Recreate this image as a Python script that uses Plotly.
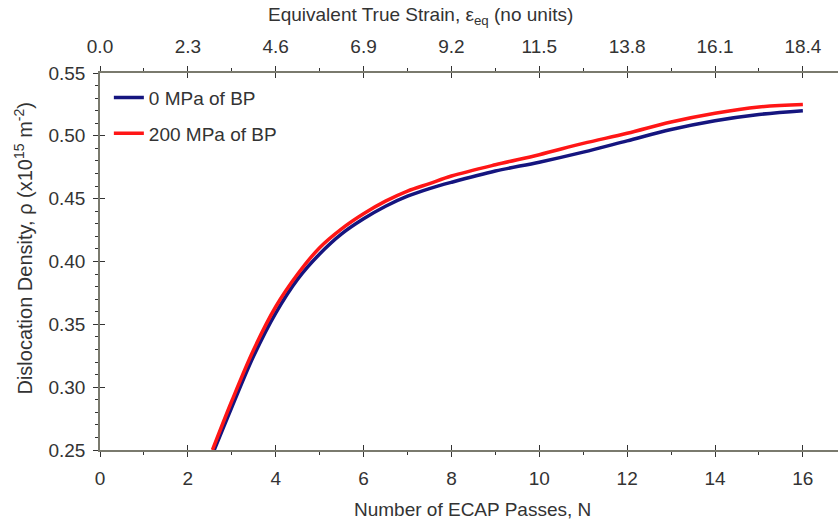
import plotly.graph_objects as go

# Data
n_blue = [2.6, 3.0, 3.5, 4.0, 4.5, 5.0, 5.5, 6.0, 6.5, 7.0, 7.5, 8.0, 9.0, 10.0, 11.0, 12.0, 13.0, 14.0, 15.0, 16.0]
rho_blue = [0.25, 0.284, 0.325, 0.359, 0.386, 0.406, 0.422, 0.434, 0.444, 0.452, 0.458, 0.463, 0.472, 0.479, 0.487, 0.496, 0.505, 0.512, 0.517, 0.520]
n_red = [2.56, 3.0, 3.5, 4.0, 4.5, 5.0, 5.5, 6.0, 6.5, 7.0, 7.5, 8.0, 9.0, 10.0, 11.0, 12.0, 13.0, 14.0, 15.0, 16.0]
rho_red = [0.25, 0.289, 0.330, 0.364, 0.390, 0.411, 0.426, 0.438, 0.448, 0.456, 0.462, 0.468, 0.477, 0.485, 0.494, 0.502, 0.511, 0.518, 0.523, 0.525]

series_names = ["0 MPa of BP", "200 MPa of BP"]
series_colors = ["#15157f", "#ff1616"]

x_range = [0, 16.8]
strain_per_pass = 1.15
y_range = [0.25, 0.55]

FONT = "Liberation Sans, Arial, sans-serif"
TXT = "#333333"
AXC = "#7a7a6e"
TKC = "#333333"

fig = go.Figure()
for xs, ys, name, col, grp in [(n_blue, rho_blue, series_names[0], series_colors[0], "a"),
                               (n_red, rho_red, series_names[1], series_colors[1], "b")]:
    fig.add_trace(go.Scatter(x=xs, y=ys, mode="lines", name=name, legendgroup=grp,
                             line=dict(color=col, width=3.5, shape="spline", smoothing=1.0),
                             cliponaxis=True))

tickfont = dict(family=FONT, size=19, color=TXT)
common = dict(showgrid=False, zeroline=False, ticks="outside", ticklen=5, tickwidth=1.3,
              tickcolor=TKC, tickfont=tickfont)

fig.update_layout(
    width=838, height=523,
    margin=dict(l=100, r=0, t=73, b=73),
    paper_bgcolor="white", plot_bgcolor="white",
    font=dict(family=FONT, color=TXT),
    showlegend=True,
    legend=dict(x=0.012, y=0.985, xanchor="left", yanchor="top", bgcolor="rgba(0,0,0,0)",
                font=dict(family=FONT, size=19, color=TXT), traceorder="grouped",
                tracegroupgap=8, itemwidth=30),
    xaxis=dict(range=x_range, tick0=0, dtick=2, showline=True, linecolor=AXC, linewidth=1.5,
               minor=dict(dtick=1, ticks="outside", ticklen=3, tickcolor=TKC, tickwidth=1.2),
               anchor="y", ticklabelstandoff=5, **common),
    xaxis2=dict(range=[x_range[0] * strain_per_pass, x_range[1] * strain_per_pass], overlaying="x",
                side="top", anchor="y", tick0=0, dtick=2 * strain_per_pass, tickformat=".1f",
                showline=True, linecolor=AXC, linewidth=1.5, ticklabelstandoff=6,
                minor=dict(dtick=strain_per_pass, ticks="outside", ticklen=3, tickcolor=TKC, tickwidth=1.2),
                **common),
    xaxis3=dict(range=x_range, overlaying="x", side="bottom", anchor="y", tick0=0, dtick=2,
                showgrid=False, zeroline=False, showline=False, ticks="inside", ticklen=5,
                tickwidth=1.3, tickcolor=TKC, showticklabels=False),
    xaxis4=dict(range=[x_range[0] * strain_per_pass, x_range[1] * strain_per_pass], overlaying="x",
                side="top", anchor="y", tick0=0, dtick=2 * strain_per_pass,
                showgrid=False, zeroline=False, showline=False, ticks="inside", ticklen=5,
                tickwidth=1.3, tickcolor=TKC, showticklabels=False),
    yaxis=dict(range=y_range, tick0=0.25, dtick=0.05, tickformat=".2f", showline=True,
               linecolor=AXC, linewidth=1.5, anchor="x", ticklabelstandoff=4,
               minor=dict(dtick=0.01, ticks="outside", ticklen=3, tickcolor=TKC, tickwidth=1.2),
               **common),
    yaxis2=dict(range=y_range, overlaying="y", side="left", anchor="x", tick0=0.25, dtick=0.05,
                showgrid=False, zeroline=False, showline=False, ticks="inside", ticklen=5,
                tickwidth=1.3, tickcolor=TKC, showticklabels=False),
)

# invisible helper traces so the overlay axes are drawn
fig.add_trace(go.Scatter(x=[None], y=[None], xaxis="x2", yaxis="y", showlegend=False, hoverinfo="skip"))
fig.add_trace(go.Scatter(x=[None], y=[None], xaxis="x3", yaxis="y2", showlegend=False, hoverinfo="skip"))
fig.add_trace(go.Scatter(x=[None], y=[None], xaxis="x4", yaxis="y2", showlegend=False, hoverinfo="skip"))

titlefont = dict(family=FONT, size=19, color=TXT)
fig.add_annotation(text="Equivalent True Strain, ε<sub>eq</sub> (no units)", xref="paper", yref="paper",
                   x=0.434, y=1.152, xanchor="center", yanchor="middle", showarrow=False, font=titlefont)
fig.add_annotation(text="Number of ECAP Passes, N", xref="paper", yref="paper",
                   x=0.505, y=-0.157, xanchor="center", yanchor="middle", showarrow=False, font=titlefont)
fig.add_annotation(text="Dislocation Density, ρ (x10<sup>15</sup> m<sup>-2</sup>)", xref="paper", yref="paper",
                   x=-0.104, y=0.535, xanchor="center", yanchor="middle", textangle=-90,
                   showarrow=False, font=dict(family=FONT, size=20, color=TXT))

fig.write_html("out.html")
